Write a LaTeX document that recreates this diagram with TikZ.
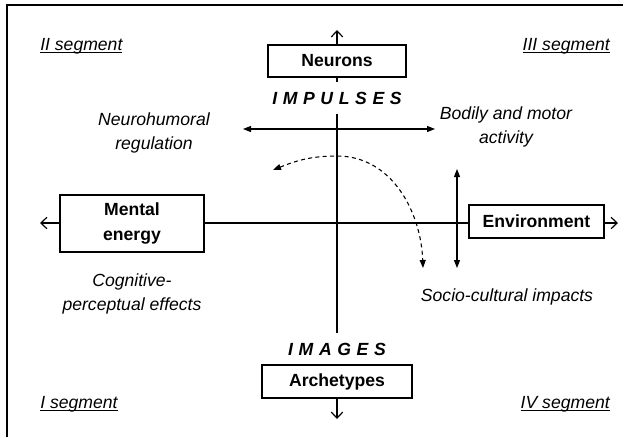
\documentclass[tikz,border=0pt]{standalone}
\usepackage{fontspec}
\setmainfont{Liberation Sans}
\usetikzlibrary{arrows.meta}
\tikzset{
  box/.style={draw, line width=0.8pt, font=\bfseries, inner sep=0pt, align=center},
  note/.style={font=\itshape, align=center, inner sep=0pt},
  spaced/.style={font=\bfseries\itshape\addfontfeature{LetterSpace=32}, inner xsep=0pt, inner ysep=7.3pt},
  axis/.style={line width=0.9pt, -{Straight Barb[length=4.5pt,width=8.5pt]}},
  twoway/.style={line width=0.8pt, {Triangle[length=6pt,width=4.5pt]}-{Triangle[length=6pt,width=4.5pt]}},
}
\newcommand{\segname}[1]{\underline{\smash{#1}}}
\begin{document}
\fontsize{13.2}{17.5}\selectfont
\begin{tikzpicture}[x=0.75pt, y=-0.75pt]
    \useasboundingbox (0,0) rectangle (628,437);
    \draw[line width=0.8pt] (7,437) -- (7,5) -- (623,5);
    % boxes on the two axes
    \node[box, minimum width=103.5pt, minimum height=24pt] (neurons) at (337,61) {Neurons};
    \node[box, minimum width=112.5pt, minimum height=24.75pt] (archetypes) at (337,381.5) {Archetypes};
    \node[box, minimum width=108pt, minimum height=42.75pt] (mental) at (132,223.5) {Mental\\[1pt]energy};
    \node[box, minimum width=101.25pt, minimum height=24.75pt] (environment) at (536.5,221.5) {Environment};
    \node[spaced] (impulses) at (337,98) {IMPULSES};
    \node[spaced] (images) at (337,349) {IMAGES};
    % axes
    \coordinate (topend) at (337,30);
    \coordinate (bottomend) at (337,419);
    \coordinate (leftend) at (40,223);
    \coordinate (rightend) at (618,223);
    \draw[axis] (neurons) -- (topend);
    \draw[axis] (archetypes) -- (bottomend);
    \draw[axis] (mental.west |- leftend) -- (leftend);
    \draw[axis] (environment.east |- rightend) -- (rightend);
    \draw[line width=0.9pt] (neurons) -- (impulses);
    \draw[line width=0.9pt] (impulses) -- (images);
    \draw[line width=0.9pt] (mental.east |- leftend) -- (environment.west |- rightend);
    % inner arrows
    \coordinate (regleft) at (243,129);
    \coordinate (regright) at (435,129);
    \coordinate (socup) at (457,169);
    \coordinate (socdown) at (457,268);
    \draw[twoway] (regleft) -- (regright);
    \draw[twoway] (socup) -- (socdown);
    \coordinate (arcstart) at (273,170);
    \coordinate (arctop) at (337,156);
    \coordinate (arcend) at (423,268);
    \draw[twoway, dash pattern=on 3pt off 2.5pt]
        (arcstart) to[out=22,in=180] (arctop) to[out=0,in=92] (arcend);
    % labels
    \node[note] (neurohumoral) at (154,133) {Neurohumoral\\regulation};
    \node[note] (bodily) at (506,127) {Bodily and motor\\activity};
    \node[note] (cognitive) at (132,294) {Cognitive-\\perceptual effects};
    \node[note] (socio) at (507,297) {Socio-cultural impacts};
    \foreach \x/\y/\anc/\txt in {40/50/base west/II, 610/50/base east/III, 40/408/base west/I, 610/408/base east/IV}
        \node[note, anchor=\anc] (seg\txt) at (\x,\y) {\segname{\txt\ segment}};
\end{tikzpicture}
\end{document}
